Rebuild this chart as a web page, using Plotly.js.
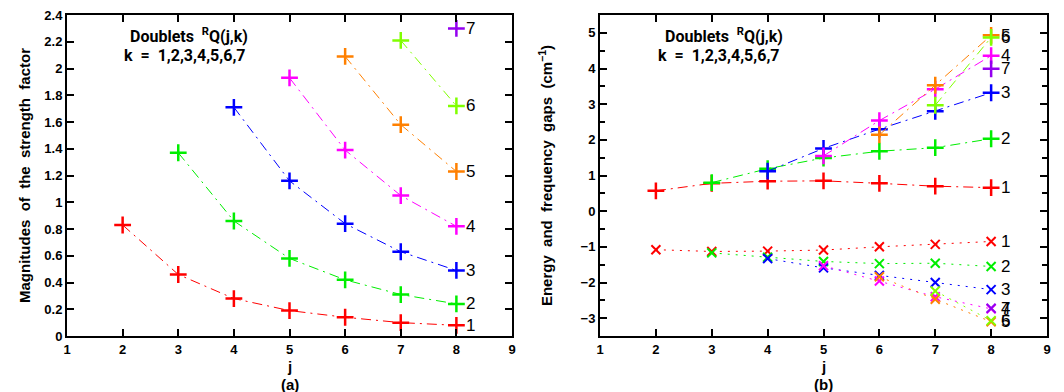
<!DOCTYPE html>
<html>
<head>
<meta charset="utf-8">
<script src="https://cdn.plot.ly/plotly-3.0.1.min.js"></script>
<style>
  html, body { margin: 0; padding: 0; background: #fff; }
  #chart { width: 1064px; height: 392px; }
</style>
</head>
<body>
<div id="chart"></div>
<script>
// Rotational quantum number j; series k starts at j = k + 1
const jValues = [2, 3, 4, 5, 6, 7, 8];
const kLabels = ['1', '2', '3', '4', '5', '6', '7'];

// (a) magnitudes of the strength factor for the doublets RQ(j,k)
const strengthK1 = [0.83, 0.46, 0.28, 0.19, 0.14, 0.10, 0.08];
const strengthK2 = [1.37, 0.86, 0.58, 0.42, 0.31, 0.24];
const strengthK3 = [1.71, 1.16, 0.84, 0.63, 0.49];
const strengthK4 = [1.93, 1.39, 1.05, 0.82];
const strengthK5 = [2.09, 1.58, 1.23];
const strengthK6 = [2.21, 1.72];
const strengthK7 = [2.30];

// (b) energy gaps (cm^-1)
const energyK1 = [0.57, 0.78, 0.84, 0.85, 0.78, 0.70, 0.66];
const energyK2 = [0.80, 1.19, 1.49, 1.68, 1.78, 2.03];
const energyK3 = [1.12, 1.76, 2.30, 2.80, 3.32];
const energyK4 = [1.55, 2.54, 3.42, 4.36];
const energyK5 = [2.14, 3.53, 4.93];
const energyK6 = [2.97, 4.87];
const energyK7 = [3.99];

// (b) frequency gaps (cm^-1)
const freqK1 = [-1.08, -1.13, -1.12, -1.09, -1.00, -0.93, -0.85];
const freqK2 = [-1.17, -1.29, -1.41, -1.47, -1.46, -1.55];
const freqK3 = [-1.33, -1.59, -1.80, -2.00, -2.20];
const freqK4 = [-1.53, -1.96, -2.40, -2.74];
const freqK5 = [-1.84, -2.47, -3.10];
const freqK6 = [-2.24, -3.07];
const freqK7 = [-2.72];

const kColors = ['#ff0000', '#00ee00', '#0000ff', '#ff00ff', '#ff8000', '#80ff00', '#9400f0'];

const strength = [strengthK1, strengthK2, strengthK3, strengthK4, strengthK5, strengthK6, strengthK7];
const energy = [energyK1, energyK2, energyK3, energyK4, energyK5, energyK6, energyK7];
const freq = [freqK1, freqK2, freqK3, freqK4, freqK5, freqK6, freqK7];

const dashDot = '10px,5px,2px,5px';
const dotted = '2px,6px';

function jFor(k, n) { return jValues.slice(k, k + n); }

const traces = [];
const annotations = [];
const labelFont = { family: 'Liberation Sans, Arial, sans-serif', size: 17, color: '#000' };

function addSeries(data, xa, ya, symbol, dash, msize, mwidth) {
  data.forEach((vals, k) => {
    const xs = jFor(k, vals.length);
    traces.push({
      x: xs, y: vals, xaxis: xa, yaxis: ya,
      type: 'scatter', mode: 'lines+markers',
      line: { color: kColors[k], width: 1, dash: dash },
      marker: { symbol: symbol, size: msize, color: kColors[k], line: { color: kColors[k], width: mwidth } },
      hoverinfo: 'x+y', showlegend: false
    });
    annotations.push({
      x: xs[xs.length - 1], y: vals[vals.length - 1], xref: xa, yref: ya,
      text: kLabels[k], showarrow: false, xanchor: 'left', yanchor: 'middle',
      xshift: 8, font: labelFont
    });
  });
}

addSeries(strength, 'x', 'y', 'cross-thin-open', dashDot, 12, 2.5);
addSeries(energy, 'x2', 'y2', 'cross-thin-open', dashDot, 12, 2.5);
addSeries(freq, 'x2', 'y2', 'x-thin-open', dotted, 9, 2);

// In-plot caption of each panel, placed in paper pixels
const textFont = { family: 'Roboto, Liberation Sans, Arial, sans-serif', size: 16, color: '#000', weight: 'bold' };
const plotW = 1064 - 67 - 17, plotH = 392 - 15 - 56;
function px(xp) { return (xp - 67) / plotW; }
function py(yp) { return (392 - 56 - yp) / plotH; }
[[129, 123], [664, 657]].forEach(([x1, x2]) => {
  annotations.push({
    xref: 'paper', yref: 'paper', x: px(x1), y: py(35), xanchor: 'left', yanchor: 'middle', showarrow: false,
    text: 'Doublets  <sup>R</sup>Q(j,k)', font: textFont, borderpad: 0
  });
  annotations.push({
    xref: 'paper', yref: 'paper', x: px(x2), y: py(55), xanchor: 'left', yanchor: 'middle', showarrow: false,
    text: 'k  =  1,2,3,4,5,6,7', font: textFont, borderpad: 0
  });
});

const tickFont = { family: 'Liberation Sans, Arial, sans-serif', size: 13, color: '#000', weight: 'bold' };
const titleFont = { family: 'Liberation Sans, Arial, sans-serif', size: 15, color: '#000', weight: 'bold' };

// x-axis label "j" and panel tag below it
[['x domain', '(a)'], ['x2 domain', '(b)']].forEach(([xr, tag]) => {
  annotations.push({
    xref: xr, yref: 'paper', x: 0.5, y: py(366), xanchor: 'center', yanchor: 'middle',
    showarrow: false, text: 'j', font: titleFont
  });
  annotations.push({
    xref: xr, yref: 'paper', x: 0.5, y: py(384), xanchor: 'center', yanchor: 'middle',
    showarrow: false, text: tag, font: titleFont
  });
});

function axisBase() {
  return {
    showline: true, linecolor: '#000', linewidth: 2, mirror: 'ticks',
    ticks: 'inside', ticklen: 7, tickwidth: 2, tickcolor: '#000',
    showgrid: false, zeroline: false, tickfont: tickFont
  };
}

const layout = {
  width: 1064, height: 392,
  margin: { l: 67, r: 17, t: 15, b: 56 },
  paper_bgcolor: '#fff', plot_bgcolor: '#fff',
  showlegend: false,
  xaxis: Object.assign(axisBase(), {
    domain: [0, 0.4541], range: [1, 9], dtick: 1, tick0: 1
  }),
  yaxis: Object.assign(axisBase(), {
    range: [0, 2.4], dtick: 0.2, tick0: 0,
    title: { text: 'Magnitudes  of  the  strength  factor', font: titleFont, standoff: 10 }
  }),
  xaxis2: Object.assign(axisBase(), {
    domain: [0.5439, 1], range: [1, 9], dtick: 1, tick0: 1, anchor: 'y2'
  }),
  yaxis2: Object.assign(axisBase(), {
    range: [-3.5, 5.5], dtick: 1, tick0: 0, anchor: 'x2',
    minor: { dtick: 0.5, tick0: 0, ticks: 'inside', ticklen: 5, tickwidth: 2, tickcolor: '#000' },
    title: { text: 'Energy  and  frequency  gaps  (cm<sup>\u22121</sup>)', font: titleFont, standoff: 24 }
  }),
  annotations: annotations
};

Plotly.newPlot('chart', traces, layout, { displayModeBar: false, staticPlot: true });
</script>
</body>
</html>
